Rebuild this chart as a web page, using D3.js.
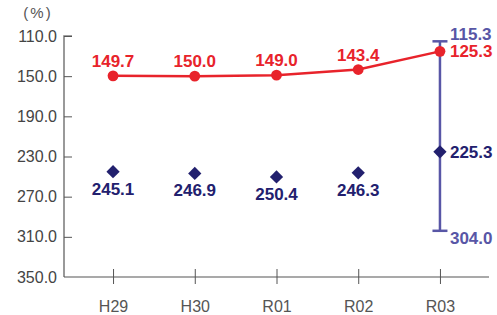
<!DOCTYPE html>
<html>
<head>
<meta charset="utf-8">
<script src="https://cdn.jsdelivr.net/npm/d3@7"></script>
<style>
  body { margin: 0; background: #fff; }
  svg { font-family: "Liberation Sans", Arial, sans-serif; }
</style>
</head>
<body>
<div id="chart"></div>
<script>
// Data
const years = ["H29", "H30", "R01", "R02", "R03"];
const redValues = [149.7, 150.0, 149.0, 143.4, 125.3];
const navyValues = [245.1, 246.9, 250.4, 246.3, 225.3];
const rangeHigh = 115.3;
const rangeLow = 304.0;
const yTicks = [110, 150, 190, 230, 270, 310, 350];

const width = 497, height = 315;
const margin = { top: 36, right: 8, bottom: 38, left: 64 };

const svg = d3.select("#chart")
  .append("svg")
  .attr("width", width)
  .attr("height", height);

const x = d3.scalePoint()
  .domain(years)
  .range([margin.left, width - margin.right])
  .padding(0.6);

const y = d3.scaleLinear()
  .domain([110, 350])
  .range([margin.top, height - margin.bottom]);

const red = "#e8232b", navy = "#22206e", blue = "#5856a6";

// y axis (ticks point inward)
const yAxis = svg.append("g")
  .attr("transform", `translate(${margin.left},0)`)
  .call(d3.axisRight(y).tickValues(yTicks).tickSize(8).tickFormat(d3.format(".1f")));
yAxis.select(".domain").attr("stroke", "#808080").attr("stroke-width", 1.6).attr("d", `M8,${y(110)}H0V${y(350)}`);
yAxis.selectAll(".tick line").attr("stroke", "#555");
yAxis.selectAll(".tick text")
  .attr("x", -7)
  .attr("text-anchor", "end")
  .attr("fill", "#444")
  .style("font-size", "16px");
yAxis.selectAll(".tick").filter(d => d === 350).select("line").remove();

// x axis
const xAxis = svg.append("g")
  .attr("transform", `translate(0,${y(350)})`)
  .call(d3.axisBottom(x).tickSize(0));
xAxis.select(".domain").attr("stroke", "#555").attr("stroke-width", 1.2)
  .attr("d", `M${margin.left},0H${width - margin.right}`);
xAxis.selectAll(".tick line").attr("y1", -8).attr("y2", 7).attr("stroke", "#555");
xAxis.selectAll(".tick text")
  .attr("y", 35)
  .attr("dy", null)
  .attr("fill", "#555")
  .style("font-size", "16px");

// unit label
svg.append("text")
  .attr("x", 38).attr("y", 18)
  .attr("text-anchor", "middle")
  .attr("fill", "#555")
  .style("font-size", "15px")
  .style("letter-spacing", "2px")
  .text("(%)");

// error bar at R03
const xr = x("R03");
svg.append("line")
  .attr("x1", xr).attr("x2", xr)
  .attr("y1", y(rangeHigh)).attr("y2", y(rangeLow))
  .attr("stroke", blue).attr("stroke-width", 2.5);
[rangeHigh, rangeLow].forEach(v => {
  svg.append("line")
    .attr("x1", xr - 7.5).attr("x2", xr + 7.5)
    .attr("y1", y(v)).attr("y2", y(v))
    .attr("stroke", blue).attr("stroke-width", 2.5);
});

// red line
const line = d3.line().x((d, i) => x(years[i])).y(d => y(d));
svg.append("path")
  .datum(redValues)
  .attr("d", line)
  .attr("fill", "none")
  .attr("stroke", red)
  .attr("stroke-width", 2.5);

svg.selectAll(".rdot")
  .data(redValues)
  .enter().append("circle")
  .attr("class", "rdot")
  .attr("cx", (d, i) => x(years[i]))
  .attr("cy", d => y(d))
  .attr("r", 5.4)
  .attr("fill", red);

// diamonds
svg.selectAll(".dia")
  .data(navyValues)
  .enter().append("path")
  .attr("class", "dia")
  .attr("d", d3.symbol(d3.symbolDiamond2, 112))
  .attr("transform", (d, i) => `translate(${x(years[i])},${y(d)})`)
  .attr("fill", navy);

// labels
const labelStyle = sel => sel.style("font-size", "17px").style("font-weight", "bold");

svg.selectAll(".rlab")
  .data(redValues)
  .enter().append("text")
  .attr("class", "rlab")
  .attr("x", (d, i) => i === 4 ? x(years[i]) + 10 : x(years[i]))
  .attr("y", (d, i) => i === 4 ? y(d) + 6 : y(d) - 9)
  .attr("text-anchor", (d, i) => i === 4 ? "start" : "middle")
  .attr("fill", red)
  .call(labelStyle)
  .text(d => d.toFixed(1));

svg.selectAll(".nlab")
  .data(navyValues)
  .enter().append("text")
  .attr("class", "nlab")
  .attr("x", (d, i) => i === 4 ? x(years[i]) + 10 : x(years[i]))
  .attr("y", (d, i) => i === 4 ? y(d) + 6 : y(d) + 23)
  .attr("text-anchor", (d, i) => i === 4 ? "start" : "middle")
  .attr("fill", navy)
  .call(labelStyle)
  .text(d => d.toFixed(1));

svg.append("text")
  .attr("x", xr + 10).attr("y", y(rangeHigh) - 1)
  .attr("fill", blue).call(labelStyle)
  .text(rangeHigh.toFixed(1));
svg.append("text")
  .attr("x", xr + 10).attr("y", y(rangeLow) + 13)
  .attr("fill", blue).call(labelStyle)
  .text(rangeLow.toFixed(1));
</script>
</body>
</html>
